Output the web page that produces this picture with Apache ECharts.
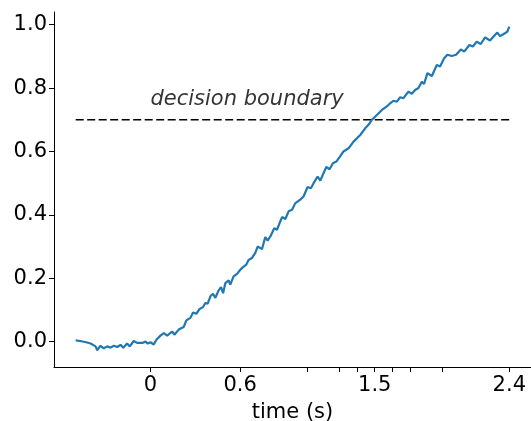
<!DOCTYPE html>
<html>
<head>
<meta charset="utf-8">
<script src="https://cdn.jsdelivr.net/npm/echarts@6/dist/echarts.min.js"></script>
<style>
html,body{margin:0;padding:0;background:#fff;}
#chart{width:531px;height:421px;}
</style>
</head>
<body>
<div id="chart"></div>
<script>
// time (s)
var times = [-0.50,-0.47,-0.43,-0.40,-0.367,-0.356,-0.334,-0.312,-0.289,-0.267,-0.245,-0.222,-0.200,-0.182,-0.156,-0.138,-0.112,-0.089,-0.055,-0.033,-0.018,0.000,0.022,0.040,0.067,0.089,0.112,0.145,0.160,0.189,0.222,0.240,0.267,0.285,0.307,0.329,0.352,0.367,0.383,0.401,0.419,0.434,0.456,0.472,0.486,0.501,0.523,0.534,0.556,0.579,0.601,0.619,0.641,0.657,0.679,0.701,0.717,0.746,0.768,0.784,0.802,0.828,0.846,0.880,0.902,0.924,0.947,0.969,1.002,1.024,1.051,1.073,1.091,1.118,1.136,1.158,1.176,1.198,1.220,1.243,1.265,1.291,1.325,1.358,1.369,1.403,1.436,1.458,1.481,1.514,1.548,1.581,1.603,1.625,1.648,1.670,1.692,1.725,1.748,1.770,1.792,1.815,1.830,1.852,1.882,1.915,1.937,1.964,1.986,2.015,2.044,2.076,2.098,2.133,2.156,2.182,2.209,2.238,2.271,2.305,2.320,2.338,2.371,2.387,2.400];
// decision variable
var values = [0.004,0.002,-0.002,-0.006,-0.015,-0.027,-0.013,-0.021,-0.015,-0.019,-0.013,-0.017,-0.010,-0.019,-0.006,-0.015,0.002,-0.004,-0.004,0.000,-0.006,-0.002,-0.009,0.006,0.019,0.027,0.019,0.032,0.022,0.038,0.046,0.067,0.075,0.092,0.088,0.103,0.109,0.122,0.120,0.143,0.151,0.138,0.162,0.172,0.153,0.185,0.193,0.180,0.206,0.214,0.227,0.235,0.243,0.258,0.264,0.280,0.300,0.292,0.330,0.319,0.332,0.358,0.353,0.393,0.387,0.411,0.416,0.437,0.448,0.458,0.488,0.484,0.500,0.521,0.508,0.532,0.551,0.544,0.563,0.568,0.582,0.600,0.610,0.631,0.626,0.652,0.673,0.684,0.700,0.715,0.731,0.742,0.752,0.760,0.757,0.771,0.768,0.789,0.782,0.794,0.800,0.820,0.813,0.847,0.838,0.873,0.868,0.894,0.905,0.901,0.905,0.922,0.915,0.936,0.931,0.946,0.939,0.960,0.950,0.968,0.975,0.964,0.973,0.978,0.994];
var boundaryTimes = [-0.5, 2.4];
var boundaryValue = 0.7;
var boundaryText = 'decision boundary';
var boundaryTextPos = [0, 0.765];
var xTickValues = [0, 0.6, 1.05, 1.26, 1.38, 1.5, 1.62, 1.74, 1.95, 2.4];
var xLabelValues = [0, 0.6, 1.5, 2.4];
var xLabels = ['0', '0.6', '1.5', '2.4'];
var yTickValues = [0, 0.2, 0.4, 0.6, 0.8, 1.0];
var xName = 'time (s)';

var curve = times.map(function (t, i) { return [t, values[i]]; });
var boundary = boundaryTimes.map(function (t) { return [t, boundaryValue]; });
var font = 'DejaVu Sans';

var chart = echarts.init(document.getElementById('chart'));
chart.setOption({
  animation: false,
  backgroundColor: '#fff',
  grid: { left: 54, right: 0, top: 12, bottom: 54, containLabel: false, outerBoundsMode: 'none' },
  xAxis: {
    type: 'value', min: -0.645, max: 2.545,
    name: xName, nameLocation: 'middle', nameGap: 35,
    nameTextStyle: { fontFamily: font, fontSize: 21, color: '#000' },
    axisLine: { show: true, onZero: false, lineStyle: { color: '#000', width: 1 } },
    axisTick: { show: true, length: 5, lineStyle: { color: '#000', width: 1 }, customValues: xTickValues },
    axisLabel: {
      fontFamily: font, fontSize: 21, color: '#000', margin: 8,
      customValues: xLabelValues,
      formatter: function (v) {
        var i = xLabelValues.findIndex(function (x) { return Math.abs(x - v) < 1e-6; });
        return i >= 0 ? xLabels[i] : '';
      }
    },
    splitLine: { show: false }
  },
  yAxis: {
    type: 'value', min: -0.08, max: 1.04,
    axisLine: { show: true, onZero: false, lineStyle: { color: '#000', width: 1 } },
    axisTick: { show: true, length: 5, lineStyle: { color: '#000', width: 1 }, customValues: yTickValues },
    axisLabel: {
      fontFamily: font, fontSize: 21, color: '#000', margin: 7,
      customValues: yTickValues,
      formatter: function (v) { return v.toFixed(1); }
    },
    splitLine: { show: false }
  },
  series: [
    {
      type: 'line', data: boundary, symbol: 'none', silent: true,
      lineStyle: { color: '#000', width: 1.7, type: [8, 3.5] }
    },
    {
      type: 'line', data: curve, symbol: 'none', smooth: false,
      lineStyle: { color: '#1f77b4', width: 2.2 }
    },
    {
      type: 'scatter', data: [boundaryTextPos], symbolSize: 0, silent: true,
      label: {
        show: true, formatter: boundaryText, position: [0, 0],
        align: 'left', verticalAlign: 'middle',
        fontFamily: font, fontStyle: 'italic', fontSize: 21, color: '#000'
      }
    }
  ]
});
</script>
</body>
</html>
